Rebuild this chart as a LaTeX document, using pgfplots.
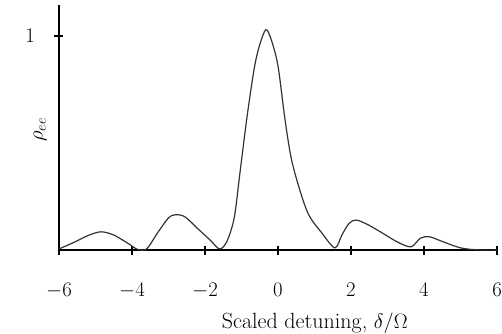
\documentclass[border=0pt]{standalone}
\usepackage{pgfplots}
\pgfplotsset{compat=1.18}
\begin{document}
\begin{tikzpicture}
\begin{axis}[
  scale only axis, width=438pt, height=245pt,
  xmin=-6, xmax=6, ymin=0, ymax=1.145,
  axis lines=left, axis line style={line width=1.4pt, -},
  xtick={-6,-4,-2,0,2,4,6}, ytick={1},
  tick align=center, major tick length=9pt,
  tick style={line width=1.1pt, black},
  ticklabel style={font=\fontsize{21}{24}\selectfont},
  xticklabel style={yshift=-25pt},
  yticklabel style={xshift=-16pt},
  xlabel={\fontsize{22}{26}\selectfont Scaled detuning, $\delta/\Omega$},
  xlabel style={at={(axis description cs:0.584,0)}, anchor=north, yshift=-59pt},
  ylabel={\fontsize{22}{26}\selectfont $\rho_{ee}$},
  ylabel style={at={(axis description cs:-0.043,0.49)}, anchor=center},
  clip=false,
]
\addplot[line width=1.2pt, black!80, smooth] coordinates {
(-6,0.005) (-5.6,0.035) (-5.2,0.068) (-4.85,0.085) (-4.5,0.07) (-4.1,0.03)
(-3.85,0.003) (-3.6,0.005) (-3.3,0.08) (-3.0,0.15) (-2.8,0.165) (-2.55,0.155)
(-2.2,0.1) (-1.85,0.045) (-1.6,0.005) (-1.4,0.04) (-1.2,0.15) (-1.05,0.35)
(-0.85,0.62) (-0.65,0.85) (-0.5,0.96) (-0.33,1.03) (-0.18,0.98) (0,0.86)
(0.2,0.6) (0.4,0.4) (0.8,0.18) (1.2,0.08) (1.56,0.01) (1.75,0.07)
(1.95,0.125) (2.15,0.14) (2.5,0.115) (2.9,0.075) (3.3,0.035) (3.65,0.015)
(3.9,0.055) (4.15,0.062) (4.5,0.04) (5.0,0.01) (5.5,0.0) (6,0.0)
};
\end{axis}
\pgfresetboundingbox
\path ([xshift=-59pt,yshift=-83pt]current axis.south west) rectangle ([xshift=5pt,yshift=5pt]current axis.north east);
\end{tikzpicture}
\end{document}
